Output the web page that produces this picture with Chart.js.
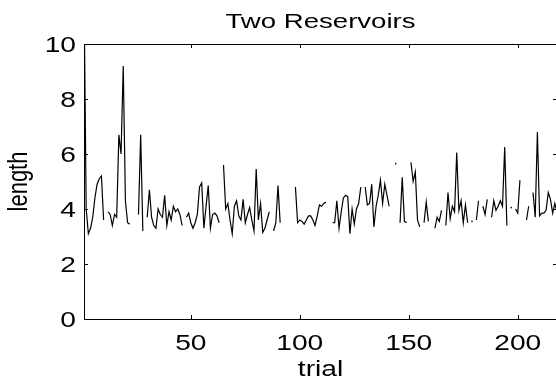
<!DOCTYPE html>
<html lang="en">

<head>
  <meta charset="UTF-8">
  <script src="https://cdn.jsdelivr.net/npm/chart.js@4.4.1/dist/chart.umd.min.js"></script>
  <style>
    html, body {
      margin: 0;
      padding: 0;
      background: #fff;
      overflow: hidden;
    }
    #wrap {
      width: 560px;
      height: 377px;
    }
  </style>
  <title>Two Reservoirs</title>
</head>

<body>
  <div id="wrap">
    <canvas id="chart"></canvas>
  </div>

  <script>
    // labels
    const titleText = 'Two Reservoirs'
    const xTitle = 'trial'
    const yTitle = 'length'

    // ticks
    const xTicks = [50, 100, 150, 200]
    const yTicks = [0, 2, 4, 6, 8, 10]

    // path length per trial, null where the trial has no value
    const lengths = [
      12, 4.0, 3.1, 3.3, 3.7, 4.4, 4.9, 5.1, 5.2, 3.6,
      null, 3.9, 3.8, 3.4, 3.8, 3.7, 6.7, 6.0, 9.2, 4.3,
      3.5, 3.45, null, null, null, 3.8, 6.7, 3.2, null, 3.7,
      4.7, 3.7, 3.4, 3.3, 4.0, 3.8, 3.7, 4.5, 3.4, 3.9,
      3.6, 4.1, 3.9, 4.0, 3.8, 3.4, null, 3.7, 3.85, 3.5,
      3.3, 3.5, 3.8, 4.8, 4.95, 3.3, 4.1, 4.85, 3.3, 3.8,
      3.85, 3.75, 3.5, null, 5.6, 4.0, 4.2, 3.6, 3.1, 4.1,
      4.3, 3.75, 3.6, 4.35, 3.5, 3.8, 4.05, 3.6, 3.2, 5.45,
      3.6, 4.2, 3.15, 3.3, 3.6, 3.9, null, 3.2, 3.5, 4.85,
      3.5, null, null, null, null, null, null, 4.8, 3.5, 3.6,
      3.55, 3.45, 3.6, 3.75, 3.75, 3.6, 3.4, 3.75, 4.15, 4.1,
      4.2, 4.25, null, null, 3.5, 3.5, 4.3, 3.3, 3.9, 4.4,
      4.5, 4.45, 3.1, 4.0, 3.45, 4.0, 4.2, 4.8, null, 4.8,
      4.15, 4.2, 4.9, 3.35, 4.1, 4.5, 5.05, 4.2, 4.9, 4.5,
      4.1, null, null, 5.65, null, 3.5, 5.15, 3.55, 3.5, null,
      5.7, 5.0, 5.35, 3.6, 3.35, null, 3.5, 4.25, 3.55, null,
      null, 3.3, 3.7, 3.55, 3.95, null, 3.4, 4.6, 3.65, 4.1,
      3.9, 6.05, 3.95, 4.3, 3.5, 4.15, 3.5, null, 3.55, null,
      3.6, 4.3, null, 4.1, 3.8, 4.35, null, 3.7, 4.3, 3.95,
      4.1, 4.3, 4.1, 6.25, 3.4, null, 4.05, null, 4.0, 3.85,
      5.05, null, null, 3.6, 4.1, null, 4.6, 3.7, 6.8, 3.75,
      3.85, 3.85, 3.95, 4.6, 4.35, 3.85, 4.2, 3.9
    ]
    const trials = lengths.map(function (v, i) { return i + 1 })

    const font = "'Liberation Sans', Arial, Helvetica, sans-serif"
    // the original figure is stretched sideways, so its text is wide
    const stretch = 1.28

    function wideText(ctx, text, x, y, size, align, sx, rot) {
      ctx.save()
      ctx.translate(x, y)
      ctx.scale(sx, 1)
      if (rot) ctx.rotate(rot)
      ctx.font = size + 'px ' + font
      ctx.textAlign = align
      ctx.textBaseline = 'alphabetic'
      ctx.fillText(text, 0, 0)
      ctx.restore()
    }

    // matlab style box: top line, inward ticks on all sides, text
    const matlabBox = {
      id: 'matlabBox',
      afterDraw(chart) {
        const ctx = chart.ctx
        const area = chart.chartArea
        const x = chart.scales.x
        const y = chart.scales.y
        const tl = 4
        ctx.save()
        ctx.strokeStyle = '#000'
        ctx.lineWidth = 1
        ctx.beginPath()
        ctx.moveTo(area.left, area.top + 0.5)
        ctx.lineTo(area.right, area.top + 0.5)
        ctx.moveTo(area.right - 0.5, area.top)
        ctx.lineTo(area.right - 0.5, area.bottom)
        xTicks.forEach(function (t) {
          const px = Math.round(x.getPixelForValue(t)) + 0.5
          ctx.moveTo(px, area.bottom)
          ctx.lineTo(px, area.bottom - tl)
          ctx.moveTo(px, area.top)
          ctx.lineTo(px, area.top + tl)
        })
        yTicks.forEach(function (t) {
          const py = Math.round(y.getPixelForValue(t)) + 0.5
          ctx.moveTo(area.left, py)
          ctx.lineTo(area.left + tl, py)
          ctx.moveTo(area.right, py)
          ctx.lineTo(area.right - tl, py)
        })
        ctx.stroke()
        ctx.fillStyle = '#000'

        // tick labels
        xTicks.forEach(function (t) {
          wideText(ctx, String(t), x.getPixelForValue(t), area.bottom + 30.5, 22, 'center', stretch)
        })
        yTicks.forEach(function (t) {
          wideText(ctx, String(t), area.left - 8, y.getPixelForValue(t) + 8, 22, 'right', stretch)
        })

        // titles
        const cx = (area.left + area.right) / 2
        wideText(ctx, titleText, cx, 28, 20, 'center', 1.38)
        wideText(ctx, xTitle, cx, 376, 22, 'center', stretch)
        wideText(ctx, yTitle, 27, (area.top + area.bottom) / 2, 22, 'center', stretch, -Math.PI / 2)
        ctx.restore()
      }
    }

    const config = {
      type: 'line',
      data: {
        labels: trials,
        datasets: [{
          data: lengths,
          borderColor: '#000',
          borderWidth: 1.2,
          tension: 0,
          spanGaps: false,
          pointRadius: function (c) {
            // lone values between gaps show up as dots
            const i = c.dataIndex
            const prev = lengths[i - 1]
            const next = lengths[i + 1]
            return (prev == null && next == null) ? 0.8 : 0
          },
          pointBackgroundColor: '#000',
          pointBorderWidth: 0
        }]
      },
      plugins: [matlabBox],
      options: {
        responsive: true,
        maintainAspectRatio: false,
        animation: false,
        layout: {
          padding: { top: 44, right: 3, left: 0, bottom: 0 }
        },
        plugins: {
          legend: { display: false },
          tooltip: { enabled: false },
          title: { display: false }
        },
        scales: {
          x: {
            type: 'linear',
            min: 1,
            max: 218,
            grid: { display: false, drawTicks: false },
            border: { display: true, color: '#000', width: 1 },
            afterBuildTicks: function (s) {
              s.ticks = xTicks.map(function (v) { return { value: v } })
            },
            afterFit: function (s) { s.height = 58 },
            ticks: { display: false }
          },
          y: {
            min: 0,
            max: 10,
            grid: { display: false, drawTicks: false },
            border: { display: true, color: '#000', width: 1 },
            afterBuildTicks: function (s) {
              s.ticks = yTicks.map(function (v) { return { value: v } })
            },
            afterFit: function (s) { s.width = 84 },
            ticks: { display: false }
          }
        }
      }
    }

    const chart = new Chart(document.getElementById('chart'), config)
  </script>
</body>

</html>
